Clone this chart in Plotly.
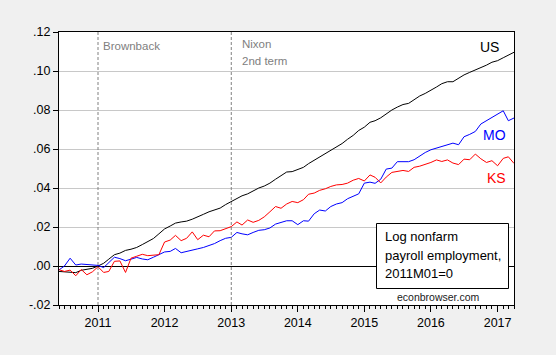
import plotly.graph_objects as go
import pandas as pd

# ---- data (monthly, 2010M06 .. 2017M04), log employment relative to 2011M01 ----
dates = pd.date_range("2010-06-01", "2017-04-01", freq="MS")

us = [-0.0028, -0.0030, -0.0031, -0.0034, -0.0022, -0.0015, -0.0012,
      0.0000, 0.0014, 0.0035, 0.0058, 0.0066, 0.0080, 0.0086, 0.0095, 0.0110, 0.0126, 0.0141, 0.0165,
      0.0190, 0.0205, 0.0220, 0.0226, 0.0230, 0.0240, 0.0254, 0.0265, 0.0278, 0.0287, 0.0297, 0.0315,
      0.0330, 0.0348, 0.0360, 0.0370, 0.0385, 0.0400, 0.0410, 0.0425, 0.0445, 0.0465, 0.0482, 0.0484,
      0.0495, 0.0506, 0.0525, 0.0542, 0.0558, 0.0575, 0.0592, 0.0608, 0.0628, 0.0650, 0.0670, 0.0695,
      0.0712, 0.0737, 0.0745, 0.0760, 0.0782, 0.0800, 0.0815, 0.0828, 0.0834, 0.0855, 0.0872, 0.0885,
      0.0900, 0.0918, 0.0935, 0.0945, 0.0945, 0.0965, 0.0980, 0.0993, 0.1005, 0.1018, 0.1030, 0.1045,
      0.1053, 0.1068, 0.1080, 0.1096]

mo = [-0.0020, 0.0000, 0.0040, 0.0005, 0.0010, 0.0008, 0.0005,
      0.0003, -0.0008, 0.0015, 0.0045, 0.0038, 0.0027, 0.0035, 0.0044, 0.0036, 0.0032, 0.0045, 0.0058,
      0.0072, 0.0075, 0.0090, 0.0068, 0.0075, 0.0085, 0.0088, 0.0095, 0.0105, 0.0115, 0.0130, 0.0142,
      0.0147, 0.0172, 0.0165, 0.0160, 0.0172, 0.0183, 0.0186, 0.0195, 0.0215, 0.0225, 0.0232, 0.0232,
      0.0212, 0.0232, 0.0230, 0.0268, 0.0287, 0.0282, 0.0305, 0.0318, 0.0325, 0.0345, 0.0358, 0.0370,
      0.0425, 0.0430, 0.0424, 0.0445, 0.0497, 0.0502, 0.0535, 0.0535, 0.0535, 0.0545, 0.0566, 0.0582,
      0.0596, 0.0605, 0.0612, 0.0625, 0.0630, 0.0622, 0.0663, 0.0675, 0.0690, 0.0728, 0.0745, 0.0760,
      0.0775, 0.0796, 0.0745, 0.0759]

ks = [-0.0019, -0.0028, -0.0021, -0.0050, -0.0018, -0.0045, -0.0030,
      -0.0004, -0.0033, -0.0028, 0.0024, 0.0026, -0.0033, 0.0040, 0.0050, 0.0060, 0.0053, 0.0056, 0.0058,
      0.0123, 0.0133, 0.0157, 0.0130, 0.0142, 0.0175, 0.0135, 0.0158, 0.0150, 0.0180, 0.0181, 0.0190,
      0.0202, 0.0226, 0.0210, 0.0236, 0.0224, 0.0234, 0.0252, 0.0278, 0.0305, 0.0296, 0.0318, 0.0331,
      0.0325, 0.0340, 0.0368, 0.0374, 0.0388, 0.0396, 0.0408, 0.0416, 0.0418, 0.0425, 0.0440, 0.0449,
      0.0436, 0.0467, 0.0455, 0.0426, 0.0456, 0.0480, 0.0485, 0.0490, 0.0485, 0.0506, 0.0512, 0.0520,
      0.0531, 0.0544, 0.0536, 0.0544, 0.0528, 0.0520, 0.0548, 0.0545, 0.0574, 0.0550, 0.0531, 0.0540,
      0.0514, 0.0552, 0.0560, 0.0526]

series_names = ["US", "MO", "KS"]
ytick_vals = [-0.02, 0.00, 0.02, 0.04, 0.06, 0.08, 0.10, 0.12]
ytick_text = ["-.02", ".00", ".02", ".04", ".06", ".08", ".10", ".12"]
event_dates = ["2011-01-01", "2013-01-01"]
event_labels = ["Brownback", "Nixon", "2nd term"]
box_lines = ["Log nonfarm", "payroll employment,", "2011M01=0"]
credit = "econbrowser.com"

# ---- layout geometry (pixels) ----
W, H = 556, 355
L, R, T, B = 59, 514, 32, 305
FONT = "Liberation Sans, Arial, sans-serif"


def px(xp):
    return (xp - L) / (R - L)


def py(yp):
    return (B - yp) / (B - T)


fig = go.Figure()
for name, vals, col in zip(series_names, [us, mo, ks], ["#000000", "#0000ff", "#ff0000"]):
    fig.add_trace(go.Scatter(x=dates, y=vals, mode="lines", name=name,
                             line=dict(color=col, width=1), showlegend=False,
                             hoverinfo="skip"))

shapes = []
for d in event_dates:
    shapes.append(dict(type="line", xref="x", yref="paper", x0=d, x1=d, y0=0, y1=1,
                       line=dict(color="#808080", width=1, dash="3px,2px"), layer="above"))
# text box
shapes.append(dict(type="rect", xref="paper", yref="paper",
                   x0=px(376.5), x1=px(508.5), y0=py(288.5), y1=py(223.5),
                   line=dict(color="#000000", width=1), fillcolor="#ffffff", layer="above"))

annotations = []


def ann(text, x, y, size, color, xanchor="center"):
    annotations.append(dict(text=text, xref="paper", yref="paper", x=px(x), y=py(y),
                            xanchor=xanchor, yanchor="middle", showarrow=False,
                            font=dict(family=FONT, size=size, color=color)))


ann(event_labels[0], 100.5, 46, 11.5, "#808080", "left")
ann(event_labels[1], 239.5, 44.5, 11.5, "#808080", "left")
ann(event_labels[2], 239.5, 61, 11.5, "#808080", "left")
ann(series_names[0], 489, 47, 14, "#000000")
ann(series_names[1], 494.5, 135, 14, "#0000ff")
ann(series_names[2], 496.5, 178, 14, "#ff0000")
for line_text, yy in zip(box_lines, [236, 255, 273.5]):
    ann(line_text, 383, yy, 13, "#000000", "left")
ann(credit, 438, 297, 10.5, "#1a1a1a")

fig.update_layout(
    width=W, height=H,
    margin=dict(l=L, r=W - R, t=T, b=H - B, pad=0),
    paper_bgcolor="#f0f0f0", plot_bgcolor="#ffffff",
    font=dict(family=FONT, size=12, color="#000000"),
    shapes=shapes, annotations=annotations,
)

fig.update_xaxes(
    type="date", range=["2010-06-01", "2017-04-01"],
    tick0="2011-01-01", dtick="M12", tickformat="%Y",
    ticks="outside", ticklen=6, tickcolor="#000000", tickwidth=1,
    minor=dict(dtick="M1", ticks="outside", ticklen=3, tickcolor="#000000", showgrid=False),
    showgrid=False, zeroline=False,
    showline=True, linecolor="#000000", linewidth=1, mirror=True,
    tickfont=dict(family=FONT, size=12.5, color="#000000"),
)

fig.update_yaxes(
    range=[-0.02, 0.12], tickvals=ytick_vals, ticktext=ytick_text,
    ticks="outside", ticklen=5, tickcolor="#000000", tickwidth=1,
    showgrid=True, gridcolor="#c8c8c8", gridwidth=1,
    zeroline=True, zerolinecolor="#000000", zerolinewidth=1,
    showline=True, linecolor="#000000", linewidth=1, mirror=True,
    tickfont=dict(family=FONT, size=12.5, color="#000000"),
)

fig.write_html("out.html", config={"displayModeBar": False},
               post_script="document.body.style.margin='0px';document.body.style.background='#f0f0f0';")
